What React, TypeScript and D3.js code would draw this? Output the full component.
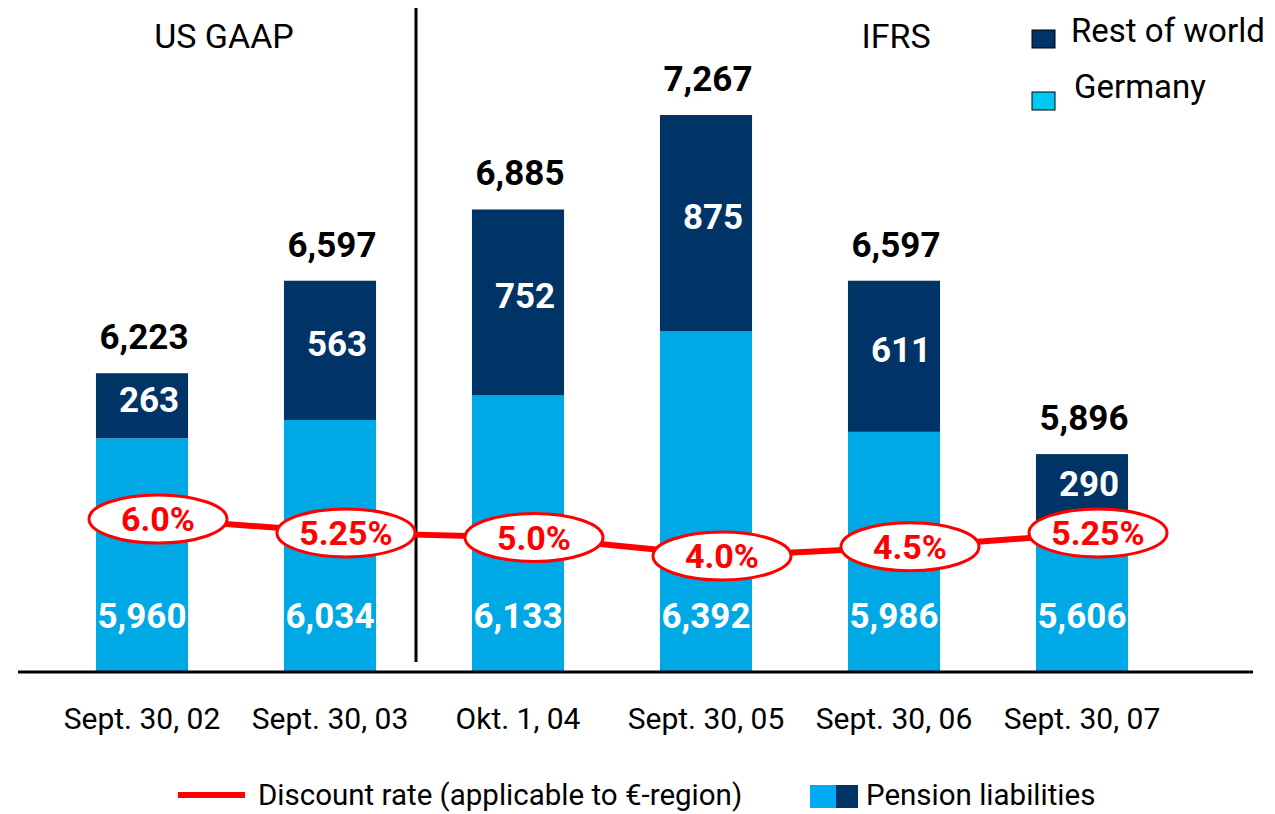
import React from "react";
import * as d3 from "d3";

const categories = ["Sept. 30, 02", "Sept. 30, 03", "Okt. 1, 04", "Sept. 30, 05", "Sept. 30, 06", "Sept. 30, 07"];
const germany = [5960, 6034, 6133, 6392, 5986, 5606];
const restOfWorld = [263, 563, 752, 875, 611, 290];
const discountRates = [6.0, 5.25, 5.0, 4.0, 4.5, 5.25];
const rateLabels = ["6.0%", "5.25%", "5.0%", "4.0%", "4.5%", "5.25%"];
const seriesKeys = ["germany", "restOfWorld"];
const seriesNames = ["Germany", "Rest of world"];

const W = 1275;
const H = 814;
const FONT = "Roboto, 'Liberation Sans', Arial, sans-serif";
const LIGHT = "#00A8E6";
const DARK = "#003366";
const RED = "#FF0000";

export default function App() {
  const rows = categories.map((c, i) => ({ cat: c, germany: germany[i], restOfWorld: restOfWorld[i] }));
  const stacked = d3.stack<any>().keys(seriesKeys)(rows);

  const x = d3.scaleBand<string>().domain(categories).range([48, 1176]).paddingInner(0.51).paddingOuter(0.255);
  const yMinVal = 5015;
  const y = d3.scaleLinear().domain([yMinVal, 7267]).range([672, 115]);
  const yr = d3.scaleLinear().domain([4, 6]).range([556, 519]);
  const fmt = d3.format(",");
  const bw = x.bandwidth();
  const cx = (c: string) => (x(c) as number) + bw / 2;

  const ratePts: [number, number][] = categories.map((c, i) => [cx(c) + 16, yr(discountRates[i])]);
  const line = d3.line();

  const dividerX = ((x(categories[1]) as number) + bw + (x(categories[2]) as number)) / 2 - 8;

  return (
    <svg width={W} height={H} style={{ position: "absolute", left: 0, top: 0, background: "#fff" }} fontFamily={FONT}>
      <defs>
        {categories.map((c, i) => (
          <clipPath id={`clip${i}`} key={c}>
            <rect x={x(c)} y={0} width={bw} height={H} />
          </clipPath>
        ))}
      </defs>

      {/* bars */}
      {stacked.map((s, si) => (
        <g key={s.key} fill={si === 0 ? LIGHT : DARK}>
          {s.map((d, i) => (
            <rect key={i} x={x(categories[i])} y={y(d[1])} width={bw} height={y(Math.max(d[0], yMinVal)) - y(d[1])} />
          ))}
        </g>
      ))}

      {/* axis line */}
      <line x1={18} x2={1253} y1={672} y2={672} stroke="#000" strokeWidth={3} />

      {/* divider */}
      <line x1={dividerX} x2={dividerX} y1={8} y2={662} stroke="#000" strokeWidth={3} />

      {/* section titles */}
      <text x={224} y={48} fontSize={34} textAnchor="middle" fill="#000">US GAAP</text>
      <text x={896} y={48} fontSize={34} textAnchor="middle" fill="#000">IFRS</text>

      {/* germany labels */}
      {categories.map((c, i) => (
        <text key={c} clipPath={`url(#clip${i})`} x={cx(c)} y={628} fontSize={35} fontWeight={700} fill="#fff" textAnchor="middle">
          {fmt(germany[i])}
        </text>
      ))}

      {/* rest of world labels */}
      {stacked[1].map((d, i) => (
        <text key={i} x={cx(categories[i]) + 7} y={(y(d[0]) + y(d[1])) / 2 + 6} fontSize={35} fontWeight={700} fill="#fff" textAnchor="middle">
          {fmt(restOfWorld[i])}
        </text>
      ))}

      {/* totals */}
      {stacked[1].map((d, i) => (
        <text key={i} x={cx(categories[i]) + 2} y={y(d[1]) - 24} fontSize={35} fontWeight={700} fill="#000" textAnchor="middle">
          {fmt(d[1])}
        </text>
      ))}

      {/* discount rate line */}
      <path d={line(ratePts) || ""} fill="none" stroke={RED} strokeWidth={6} />
      {ratePts.map((p, i) => (
        <g key={i}>
          <ellipse cx={p[0]} cy={p[1]} rx={69} ry={24} fill="#fff" stroke={RED} strokeWidth={3} />
          <text x={p[0]} y={p[1] + 12} fontSize={34} fontWeight={700} fill={RED} textAnchor="middle">
            {rateLabels[i]}
          </text>
        </g>
      ))}

      {/* category labels */}
      {categories.map((c) => (
        <text key={c} x={cx(c)} y={729} fontSize={30} fill="#000" textAnchor="middle">
          {c}
        </text>
      ))}

      {/* top-right legend */}
      {[1, 0].map((si, k) => (
        <g key={si}>
          <rect x={1032} y={30 + k * 62} width={23} height={18} fill={si === 0 ? "#00C8F5" : DARK} stroke="#000" strokeWidth={1} />
          <text x={1071 + k * 3} y={42 + k * 56} fontSize={33} fill="#000">{seriesNames[si]}</text>
        </g>
      ))}

      {/* bottom legend */}
      <line x1={178} x2={245} y1={795} y2={795} stroke={RED} strokeWidth={6} />
      <text x={258} y={805} fontSize={29.5} fill="#000">Discount rate (applicable to €-region)</text>
      <rect x={810} y={785} width={26} height={23} fill="#00AAF5" />
      <rect x={836} y={785} width={22} height={23} fill={DARK} />
      <text x={866} y={805} fontSize={29.5} fill="#000">Pension liabilities</text>
    </svg>
  );
}
